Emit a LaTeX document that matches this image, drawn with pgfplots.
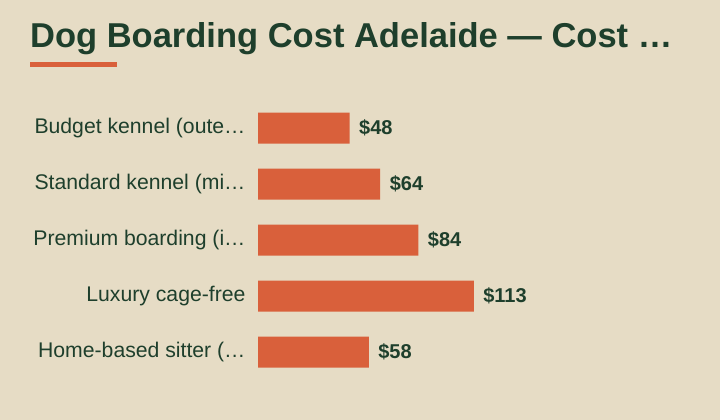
\documentclass[border=0pt]{standalone}
\usepackage{pgfplots}
\pgfplotsset{compat=1.18}
\usepackage{fontspec}
\setmainfont{Liberation Sans}
\definecolor{bgc}{HTML}{E6DCC5}
\definecolor{barc}{HTML}{D9603B}
\definecolor{ink}{HTML}{1E3F2C}
\begin{document}
\begin{tikzpicture}
  \fill[bgc] (0,0) rectangle (720bp,420bp);
  \node[anchor=base west, inner sep=0, text=ink, font=\fontsize{34.5bp}{40bp}\selectfont\bfseries]
    at (30bp,372bp) {Dog Boarding Cost Adelaide — Cost …};
  \fill[barc] (30bp,353bp) rectangle (117bp,358bp);
  \begin{axis}[
    at={(258bp,40bp)}, anchor=south west,
    scale only axis, width=382bp, height=280bp,
    xmin=0, xmax=200, ymin=-0.5, ymax=4.5,
    y dir=reverse,
    axis line style={draw=none},
    xtick=\empty, ytick={0,1,2,3,4},
    yticklabels={Budget kennel (oute…, Standard kennel (mi…, Premium boarding (i…, Luxury cage-free, Home-based sitter (…},
    major tick length=0pt,
    yticklabel style={text=ink, font=\fontsize{21.2bp}{24bp}\selectfont, xshift=-9bp},
    xbar, bar width=31bp,
    /pgf/number format/assume math mode=true,
    nodes near coords={\$\pgfmathprintnumber{\pgfplotspointmeta}},
    nodes near coords style={text=ink, font=\fontsize{20bp}{23bp}\selectfont\bfseries, anchor=west, xshift=6bp},
    clip=false,
  ]
    \addplot[fill=barc, draw=none] coordinates {(48,0) (64,1) (84,2) (113,3) (58,4)};
  \end{axis}
\end{tikzpicture}
\end{document}
